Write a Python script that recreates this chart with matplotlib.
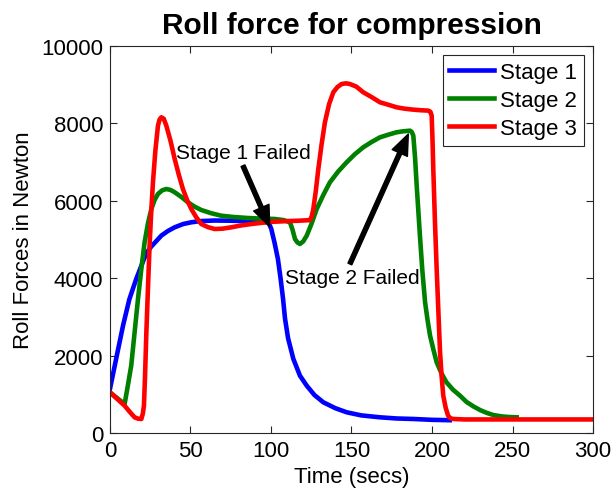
import numpy as np
import matplotlib.pyplot as plt

plt.rcParams['font.family'] = ['Liberation Sans', 'DejaVu Sans']

# Stage 1 (blue)
t1 = [0, 4, 8.1, 12, 16.3, 19.5, 22.6, 25.7, 28.8, 31.9, 36, 40.2, 45.5, 50.5,
      56, 65, 75, 85, 95, 98.5, 100.2, 102.3, 104.3, 106, 107.5, 108.7, 110.6,
      113.9, 118, 122.2, 127, 132.5, 140, 147, 156, 167.7, 178, 188.4, 200, 211]
f1 = [1137, 1950, 2773, 3450, 3980, 4323, 4650, 4820, 4960, 5100, 5220, 5315,
      5400, 5444, 5475, 5490, 5485, 5475, 5465, 5440, 5271, 4900, 4496, 3980, 3463,
      2960, 2450, 1912, 1480, 1222, 980, 793, 640, 535, 455, 405, 375, 362, 340, 330]

# Stage 2 (green)
t2 = [0, 4.5, 9.1, 11, 13.2, 15.3, 17.4, 19.5, 21.5, 23.6, 25.7, 27.7, 29.8, 32.4,
      35, 37.6, 40.2, 44.3, 48.4, 52.5, 56.7, 62.8, 69, 77, 85.7, 94, 102.3, 108,
      111.8, 113.4, 114.9, 116.5, 118, 120, 122.2, 125.3, 128.4, 132.5, 136.6, 141.8,
      147, 152, 157.3, 162.5, 167.7, 173, 178, 182, 186.3, 187.4, 188.4, 189.5,
      190.5, 192.5, 194, 195.7, 197.3, 198.8, 200.9, 202.9, 206, 209, 213, 217.4,
      221.5, 226, 230, 234, 238, 243, 247, 252.6]
f2 = [1050, 900, 750, 1200, 1740, 2600, 3463, 4250, 4928, 5420, 5788, 6020, 6176,
      6270, 6305, 6280, 6220, 6100, 5960, 5850, 5762, 5680, 5615, 5580, 5555, 5540,
      5530, 5500, 5444, 5250, 5013, 4920, 4884, 4950, 5100, 5420, 5788, 6150, 6478,
      6760, 6995, 7200, 7382, 7520, 7640, 7710, 7770, 7795, 7812, 7780, 7683, 7100,
      6390, 5100, 4200, 3377, 2900, 2514, 2150, 1827, 1530, 1310, 1120, 964, 800,
      680, 590, 520, 465, 430, 415, 405]

# Stage 3 (red)
t3 = [0, 4.5, 9.1, 12.2, 15.3, 17.4, 19.5, 20.4, 21.1, 21.8,
      22.6, 23.6, 24.6, 25.6, 26.7, 28.2, 29.8, 30.8, 31.9, 33.4,
      35, 37.6, 40.2, 42.7, 45.3, 47.9, 50.5, 53.5, 56.7, 60.8,
      65, 70, 75.4, 81, 87.8, 95, 102.3, 110, 117, 124.2,
      125.3, 126.3, 127.8, 129.4, 131.4, 133.5, 136.1, 138.7, 141.3, 143.9,
      146.5, 149, 153, 157.3, 162.5, 167.7, 173, 178, 183, 188.4,
      193, 197.7, 199, 199.8, 200.3, 200.8, 201.8, 202.9, 204, 205,
      206, 207, 208.5, 210, 211.5, 213.2, 220, 250, 300]
f3 = [1050, 880, 705, 550, 405, 370, 362, 500, 705, 1500,
      2600, 3750, 4840, 5700, 6478, 7300, 7940, 8100, 8157, 8120,
      7940, 7550, 7080, 6680, 6305, 6020, 5788, 5580, 5400, 5320,
      5271, 5280, 5315, 5360, 5400, 5435, 5460, 5475, 5485, 5500,
      5600, 5788, 6240, 6822, 7450, 8028, 8500, 8804, 8940, 9018,
      9035, 9018, 8950, 8804, 8680, 8545, 8480, 8416, 8380, 8355,
      8340, 8330, 8300, 8200, 7600, 6822, 5500, 4238, 3100, 2085,
      1450, 964, 650, 447, 380, 362, 350, 350, 350]

fig = plt.figure(figsize=(6.13, 4.89), dpi=100)
ax = fig.add_axes([0.1794, 0.1125, 0.788, 0.7914])

ax.plot(t1, f1, color='#0000ff', lw=3.3, label='Stage 1', solid_joinstyle='round')
ax.plot(t2, f2, color='#008000', lw=3.3, label='Stage 2', solid_joinstyle='round')
ax.plot(t3, f3, color='#ff0000', lw=3.3, label='Stage 3', solid_joinstyle='round')

ax.set_xlim(0, 300)
ax.set_ylim(0, 10000)
ax.set_xticks(np.arange(0, 301, 50))
ax.set_yticks(np.arange(0, 10001, 2000))
ax.tick_params(direction='in', top=True, right=True, labelsize=16, length=5,
               color='#262626', pad=5)
for s in ax.spines.values():
    s.set_color('#262626')

ax.set_title('Roll force for compression', fontsize=21.5, fontweight='bold', pad=9)
ax.set_xlabel('Time (secs)', fontsize=16, labelpad=4)
ax.set_ylabel('Roll Forces in Newton', fontsize=16, labelpad=5)

# arrows pointing to where each stage fails
arrow = dict(facecolor='black', edgecolor='black', width=3, headwidth=12,
             headlength=15, shrink=0)
ax.annotate('', xy=(99.2, 5330), xytext=(82.6, 6907), arrowprops=arrow)
ax.annotate('', xy=(185.3, 7726), xytext=(149, 4367), arrowprops=arrow)
ax.text(41, 7235, 'Stage 1 Failed', fontsize=15, va='center')
ax.text(108.7, 4023, 'Stage 2 Failed', fontsize=15, va='center')

leg = ax.legend(loc='upper right', fontsize=16, fancybox=False, framealpha=1,
                edgecolor='#262626', handlelength=2.0, borderpad=0.3,
                labelspacing=0.33, handletextpad=0.3, borderaxespad=0.4)
leg.get_frame().set_linewidth(0.8)

fig.savefig('out.png', dpi=100)
